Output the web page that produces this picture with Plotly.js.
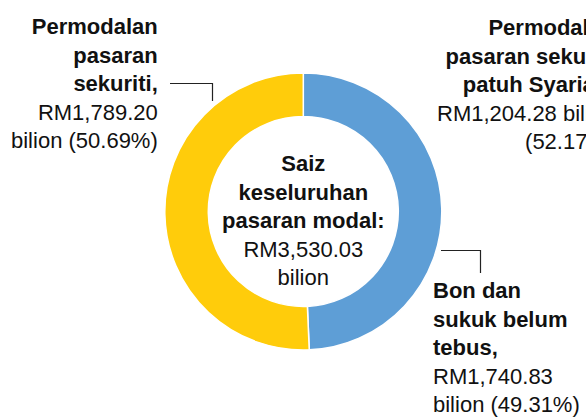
<!DOCTYPE html>
<html>
<head>
<meta charset="utf-8">
<script src="https://cdn.plot.ly/plotly-3.0.1.min.js"></script>
<style>html,body{margin:0;padding:0;background:#fff;}#chart{width:586px;height:420px;}</style>
</head>
<body>
<div id="chart"></div>
<script>
// ---- data ----
const categories = ['Bon dan sukuk belum tebus', 'Permodalan pasaran sekuriti'];
const values = [1740.83, 1789.20];            // RM bilion
const shares = [49.31, 50.69];                // %
const titleLines = [['Bon dan', 'sukuk belum', 'tebus,'], ['Permodalan', 'pasaran', 'sekuriti,']];
const totalTitleLines = ['Saiz', 'keseluruhan', 'pasaran modal:'];
const totalValue = 3530.03;
const syariahTitleLines = ['Permodalan', 'pasaran sekuriti', 'patuh Syariah,'];
const syariahValue = 1204.28;
const syariahShare = 52.17;
const colors = ['#5E9ED6', '#FFCC0B'];

// ---- helpers ----
const fmt = v => v.toLocaleString('en-US', {minimumFractionDigits: 2, maximumFractionDigits: 2});
const bold = lines => '<b>' + lines.join('<br>') + '</b>';

const FONT = 'Arial, "Liberation Sans", Helvetica, sans-serif';
const W = 586, H = 420;
const cx = 303.3, cy = 211.5, R = 138.5;

const trace = {
  type: 'pie',
  labels: categories,
  values: values,
  sort: false,
  direction: 'clockwise',
  rotation: 0,
  hole: 0.686,
  textinfo: 'none',
  hoverinfo: 'none',
  showlegend: false,
  marker: {colors: colors, line: {color: '#ffffff', width: 1.5}},
  domain: {x: [(cx - R) / W, (cx + R) / W], y: [(H - cy - R) / H, (H - cy + R) / H]}
};

const annFont = {family: FONT, size: 22, color: '#111'};
const annotations = [
  { // left: Permodalan pasaran sekuriti
    text: bold(titleLines[1]) + '<br>RM' + fmt(values[1]) + '<br>bilion (' + shares[1].toFixed(2) + '%)',
    x: 160 / W, y: 1 - 84 / H, xanchor: 'right', yanchor: 'middle', align: 'right'
  },
  { // bottom right: Bon dan sukuk
    text: bold(titleLines[0]) + '<br>RM' + fmt(values[0]) + '<br>bilion (' + shares[0].toFixed(2) + '%)',
    x: 431 / W, y: 1 - 347 / H, xanchor: 'left', yanchor: 'middle', align: 'left'
  },
  { // centre total
    text: bold(totalTitleLines) + '<br>RM' + fmt(totalValue) + '<br>bilion',
    x: cx / W, y: 1 - 220 / H, xanchor: 'center', yanchor: 'middle', align: 'center'
  },
  { // top right (clipped at the edge, as in the reference) Syariah
    text: bold(syariahTitleLines) + '<br>RM' + fmt(syariahValue) + ' bilion<br>(' + syariahShare.toFixed(2) + '%)',
    x: 616 / W, y: 1 - 85 / H, xanchor: 'right', yanchor: 'middle', align: 'right'
  }
].map(a => Object.assign({xref: 'paper', yref: 'paper', showarrow: false, font: annFont}, a));

const lineStyle = {color: '#222222', width: 1.2};
const px = v => v / W, py = v => 1 - v / H;
const shapes = [
  {type: 'path', xref: 'paper', yref: 'paper',
   path: 'M ' + px(170) + ' ' + py(83.5) + ' L ' + px(212.5) + ' ' + py(83.5) + ' L ' + px(212.5) + ' ' + py(101),
   line: lineStyle},
  {type: 'path', xref: 'paper', yref: 'paper',
   path: 'M ' + px(441) + ' ' + py(250.5) + ' L ' + px(480.5) + ' ' + py(250.5) + ' L ' + px(480.5) + ' ' + py(273),
   line: lineStyle}
];

const layout = {
  width: W, height: H,
  margin: {l: 0, r: 0, t: 0, b: 0},
  paper_bgcolor: '#ffffff',
  plot_bgcolor: '#ffffff',
  font: {family: FONT},
  showlegend: false,
  annotations: annotations,
  shapes: shapes
};

Plotly.newPlot('chart', [trace], layout, {displayModeBar: false, staticPlot: true});
</script>
</body>
</html>
